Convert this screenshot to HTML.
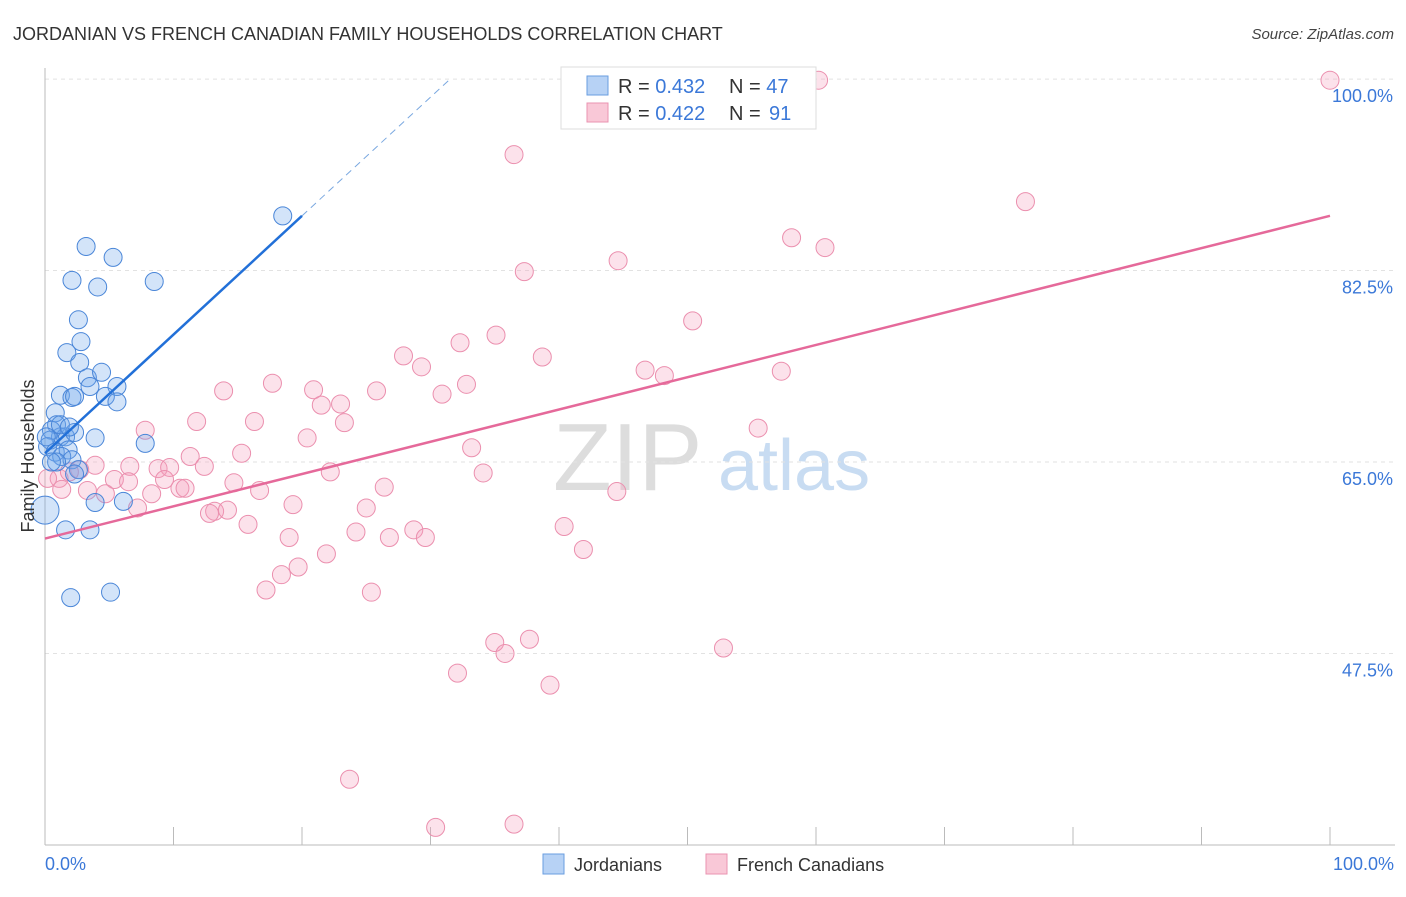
<!DOCTYPE html>
<html><head><meta charset="utf-8"><style>
body{margin:0;background:#fff;font-family:"Liberation Sans",sans-serif}
svg text{font-family:"Liberation Sans",sans-serif}
</style></head><body>
<svg id="chart" width="1406" height="892" xmlns="http://www.w3.org/2000/svg">
<text x="13" y="40" font-size="18" fill="#333">JORDANIAN VS FRENCH CANADIAN FAMILY HOUSEHOLDS CORRELATION CHART</text>
<text x="1394" y="39" font-size="15" fill="#444" text-anchor="end" font-style="italic">Source: ZipAtlas.com</text>
<g><text x="553" y="490" font-size="96" fill="#ddd" font-family="Liberation Serif,serif">ZIP</text><text x="718" y="490" font-size="72" fill="#c8dcf2">atlas</text></g>
<g id="grid"></g><g id="axes"></g><g id="pts"></g><g id="lines"></g>
<text transform="translate(34,456) rotate(-90)" font-size="18" fill="#333" text-anchor="middle">Family Households</text>
<text x="45" y="870" font-size="18" fill="#3b78d8">0.0%</text>
<text x="1394" y="870" font-size="18" fill="#3b78d8" text-anchor="end">100.0%</text>
<g>
<rect x="561" y="67" width="255" height="62" fill="#fff" stroke="#ddd"/>
<rect x="587" y="76" width="21" height="19" fill="#b7d2f5" stroke="#6a9ee0"/>
<rect x="587" y="103" width="21" height="19" fill="#f9c8d7" stroke="#ea93b0"/>
<text x="618" y="93" font-size="20" fill="#333">R = <tspan fill="#3b78d8">0.432</tspan></text>
<text x="729" y="93" font-size="20" fill="#333">N = <tspan fill="#3b78d8">47</tspan></text>
<text x="618" y="120" font-size="20" fill="#333">R = <tspan fill="#3b78d8">0.422</tspan></text>
<text x="729" y="120" font-size="20" fill="#333">N = </text>
<text x="769" y="120" font-size="20" fill="#3b78d8">91</text>
</g>
<g><rect x="543" y="854" width="21" height="20" fill="#b7d2f5" stroke="#6a9ee0"/><text x="574" y="871" font-size="18" fill="#333">Jordanians</text></g>
<g><rect x="706" y="854" width="21" height="20" fill="#f9c8d7" stroke="#ea93b0"/><text x="737" y="871" font-size="18" fill="#333">French Canadians</text></g>
</svg>
<script>
const yTicks=[47.5,65,82.5,100];
const yTickLabels=["47.5%","65.0%","82.5%","100.0%"];
const xTicks=[0,10,20,30,40,50,60,70,80,90,100];
const blueX=[0,1.6,2.0,5.1,3.9,6.1,3.5,0.8,1.2,2.1,2.3,1.7,2.8,2.6,2.7,3.3,4.4,3.5,5.6,4.7,5.6,7.8,3.9,8.5,2.1,4.1,3.2,5.3,18.5,0.9,1.2,1.6,2.3,0.5,0.4,0.2,0.8,1.8,1.3,2.1,0.9,2.6,2.3,0.5,1.2,1.9,0.1];
const blueY=[60.6,58.8,52.6,53.1,61.3,61.4,58.8,69.5,71.1,70.9,71.0,75.0,76.0,78.0,74.1,72.7,73.2,71.9,71.9,71.0,70.5,66.7,67.2,81.5,81.6,81.0,84.7,83.7,87.5,68.4,67.3,67.3,67.7,67.9,67.0,66.4,65.9,66.1,65.5,65.2,65.0,64.3,63.9,65.0,68.4,68.2,67.3];
const pinkX=[100,60.2,47.6,50.0,36.5,76.3,58.1,60.7,37.3,44.6,50.4,35.1,32.3,27.9,38.7,29.3,46.7,48.2,57.3,17.7,13.9,20.9,25.8,32.8,30.9,21.5,23.0,11.8,16.3,23.3,7.8,20.4,55.5,33.2,11.3,15.3,34.1,6.6,8.8,9.7,12.4,3.9,2.7,22.2,5.4,6.5,9.3,14.7,26.4,1.1,1.3,3.3,4.7,8.3,10.5,10.9,16.7,44.5,19.3,7.2,13.2,14.2,12.8,15.8,25.0,19.0,24.2,26.8,28.7,29.6,40.4,21.9,41.9,19.7,18.4,17.2,25.4,35.0,37.7,35.8,52.8,32.1,39.3,23.7,30.4,36.5,0.2,1.9];
const pinkY=[99.9,99.9,99.9,99.9,93.1,88.8,85.5,84.6,82.4,83.4,77.9,76.6,75.9,74.7,74.6,73.7,73.4,72.9,73.3,72.2,71.5,71.6,71.5,72.1,71.2,70.2,70.3,68.7,68.7,68.6,67.9,67.2,68.1,66.3,65.5,65.8,64.0,64.6,64.4,64.5,64.6,64.7,64.3,64.1,63.4,63.2,63.4,63.1,62.7,63.5,62.5,62.4,62.1,62.1,62.6,62.6,62.4,62.3,61.1,60.8,60.5,60.6,60.3,59.3,60.8,58.1,58.6,58.1,58.8,58.1,59.1,56.6,57.0,55.4,54.7,53.3,53.1,48.5,48.8,47.5,48.0,45.7,44.6,36.0,31.6,31.9,63.5,64.1];
const blueTrend=[65.8,1.085];
const pinkTrend=[58.0,0.295];
const NS="http://www.w3.org/2000/svg";
const X=v=>45+v*12.85;
const Y=v=>462-(v-65)*10.94;
function mk(tag,attrs,parent){const e=document.createElementNS(NS,tag);for(const k in attrs)e.setAttribute(k,attrs[k]);document.getElementById(parent).appendChild(e);return e;}
yTicks.forEach((t,i)=>{
  const l=mk('line',{x1:45,x2:1395,y1:Y(t),y2:Y(t),stroke:'#e2e2e2','stroke-dasharray':'4,4'},'grid');
  
  
  const tx=mk('text',{x:1393,y:Y(t)+23,'font-size':18,fill:'#3b78d8','text-anchor':'end'},'grid');
  tx.textContent=yTickLabels[i];
  
  
});
const ax=mk('line',{x1:45,x2:1395,y1:845,y2:845,stroke:'#bbb'},'axes');


const ay=mk('line',{x1:45,x2:45,y1:68,y2:845,stroke:'#bbb'},'axes');


xTicks.forEach(t=>{
  const l=mk('line',{x1:X(t),x2:X(t),y1:827,y2:845,stroke:'#bbb'},'axes');
  
  
});
pinkX.forEach((v,i)=>{
  const c=mk('circle',{cx:X(v),cy:Y(pinkY[i]),r:9,fill:'rgba(244,160,188,0.3)',stroke:'#eb8fae','stroke-width':1},'pts');
  
  
});
blueX.forEach((v,i)=>{
  const c=mk('circle',{cx:X(v),cy:Y(blueY[i]),r:i===0?14:9,fill:'rgba(110,165,235,0.3)',stroke:'#4a86d8','stroke-width':1},'pts');
  
  
});
const bl=mk('line',{x1:X(0),y1:Y(blueTrend[0]),x2:X(20),y2:Y(blueTrend[0]+20*blueTrend[1]),stroke:'#2270d8','stroke-width':2.5},'lines');


const xEnd=(100-blueTrend[0])/blueTrend[1];
const bd=mk('line',{x1:X(20),y1:Y(blueTrend[0]+20*blueTrend[1]),x2:X(xEnd),y2:Y(100),stroke:'#7aa8e0','stroke-width':1,'stroke-dasharray':'7,5'},'lines');


const pl=mk('line',{x1:X(0),y1:Y(pinkTrend[0]),x2:X(100),y2:Y(pinkTrend[0]+100*pinkTrend[1]),stroke:'#e5699a','stroke-width':2.5},'lines');


</script>
</body></html>
